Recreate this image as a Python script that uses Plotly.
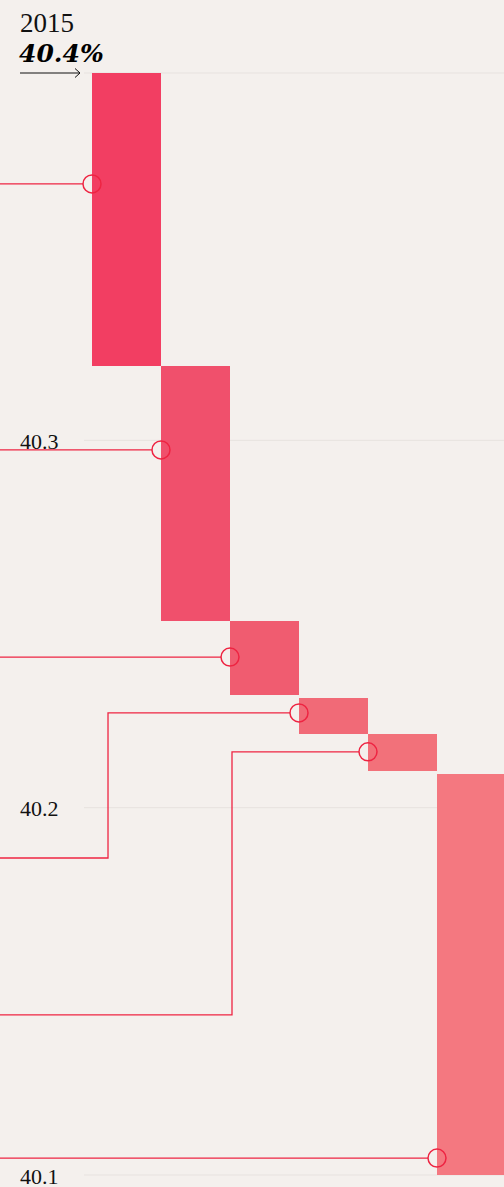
import plotly.graph_objects as go

W, H = 504, 1187

# ---- data ----
steps = ["Step 1", "Step 2", "Step 3", "Step 4", "Step 5", "Step 6"]
bar_top = [40.4, 40.3202, 40.2508, 40.2299, 40.2200, 40.2092]
bar_bottom = [40.3202, 40.2508, 40.2307, 40.2200, 40.2100, 40.1]
bar_colors = ["#F23E62", "#F0506C", "#F05C70", "#F16A77", "#F2717A", "#F47880"]
marker_y = [40.3698, 40.2974, 40.2410, 40.2258, 40.2152, 40.1046]
label_y = [40.3698, 40.2974, 40.2410, 40.1863, 40.1436, 40.1046]
elbow_x = [None, None, None, 0.232, 2.029, None]
tick_vals = [40.4, 40.3, 40.2, 40.1]
tick_text = ["", "40.3", "40.2", "40.1"]
start_year = "2015"
start_value = "40.4%"

# ---- scales ----
px_per_x = 69.0
x0_px = 92.0
x_range = [-x0_px / px_per_x, (W - x0_px) / px_per_x]
px_per_y = (1175 - 73) / 0.3
y_range = [40.1 - (H - 1175) / px_per_y, 40.4 + 73 / px_per_y]

RED = "#EE2442"
BG = "#F4F0ED"
GRID = "#E7E2DF"

fig = go.Figure()

xs = [i + 0.5 for i in range(len(steps))]
fig.add_trace(go.Bar(
    x=xs,
    y=[t - b for t, b in zip(bar_top, bar_bottom)],
    base=bar_bottom,
    width=1.0,
    marker=dict(color=bar_colors, line=dict(width=0)),
    hoverinfo="skip",
    showlegend=False,
))

r = 9.0 / px_per_x
for i, (my, ly, ex) in enumerate(zip(marker_y, label_y, elbow_x)):
    if ex is None:
        lx = [x_range[0] - 0.2, i - r]
        lyy = [ly, ly]
    else:
        lx = [x_range[0] - 0.2, ex, ex, i - r]
        lyy = [ly, ly, my, my]
    fig.add_trace(go.Scatter(
        x=lx, y=lyy, mode="lines",
        line=dict(color=RED, width=1.3),
        hoverinfo="skip", showlegend=False,
    ))

fig.add_trace(go.Scatter(
    x=list(range(len(steps))), y=marker_y, mode="markers",
    marker=dict(symbol="circle-open", size=18, color=RED, line=dict(width=1.5, color=RED)),
    hoverinfo="skip", showlegend=False,
))

shapes = []
for v in tick_vals:
    shapes.append(dict(type="line", xref="paper", yref="y",
                       x0=84 / W, x1=1, y0=v, y1=v,
                       line=dict(color=GRID, width=1), layer="below"))

def px(x):
    return x / W

def py(y):
    return 1 - y / H

arrow_path = (f"M {px(20)},{py(73)} L {px(80)},{py(73)} "
              f"M {px(75)},{py(68.5)} L {px(80)},{py(73)} L {px(75)},{py(77.5)}")
shapes.append(dict(type="path", xref="paper", yref="paper", path=arrow_path,
                   line=dict(color="#111111", width=1)))

annotations = []
for v, t in zip(tick_vals, tick_text):
    if t:
        annotations.append(dict(x=18 / W, xref="paper", xanchor="left",
                                y=v, yref="y", yanchor="middle", yshift=-1,
                                text=t, showarrow=False,
                                font=dict(family="Liberation Serif", size=22, color="#111111")))
annotations.append(dict(x=18 / W, xref="paper", xanchor="left",
                        y=py(23), yref="paper", yanchor="middle",
                        text=start_year, showarrow=False,
                        font=dict(family="Liberation Serif", size=27, color="#111111")))
annotations.append(dict(x=17 / W, xref="paper", xanchor="left",
                        y=py(53), yref="paper", yanchor="middle",
                        text=f"<b><i>{start_value}</i></b>", showarrow=False,
                        font=dict(family="DejaVu Serif", size=25, color="#000000")))

fig.update_layout(
    width=W, height=H,
    margin=dict(l=0, r=0, t=0, b=0),
    paper_bgcolor=BG, plot_bgcolor=BG,
    xaxis=dict(range=x_range, visible=False, fixedrange=True),
    yaxis=dict(range=y_range, visible=False, fixedrange=True),
    barmode="overlay", bargap=0,
    shapes=shapes, annotations=annotations,
    showlegend=False,
)

fig.write_html("out.html", config={"displayModeBar": False},
               post_script="document.body.style.margin='0';document.body.style.background='#F4F0ED';")
